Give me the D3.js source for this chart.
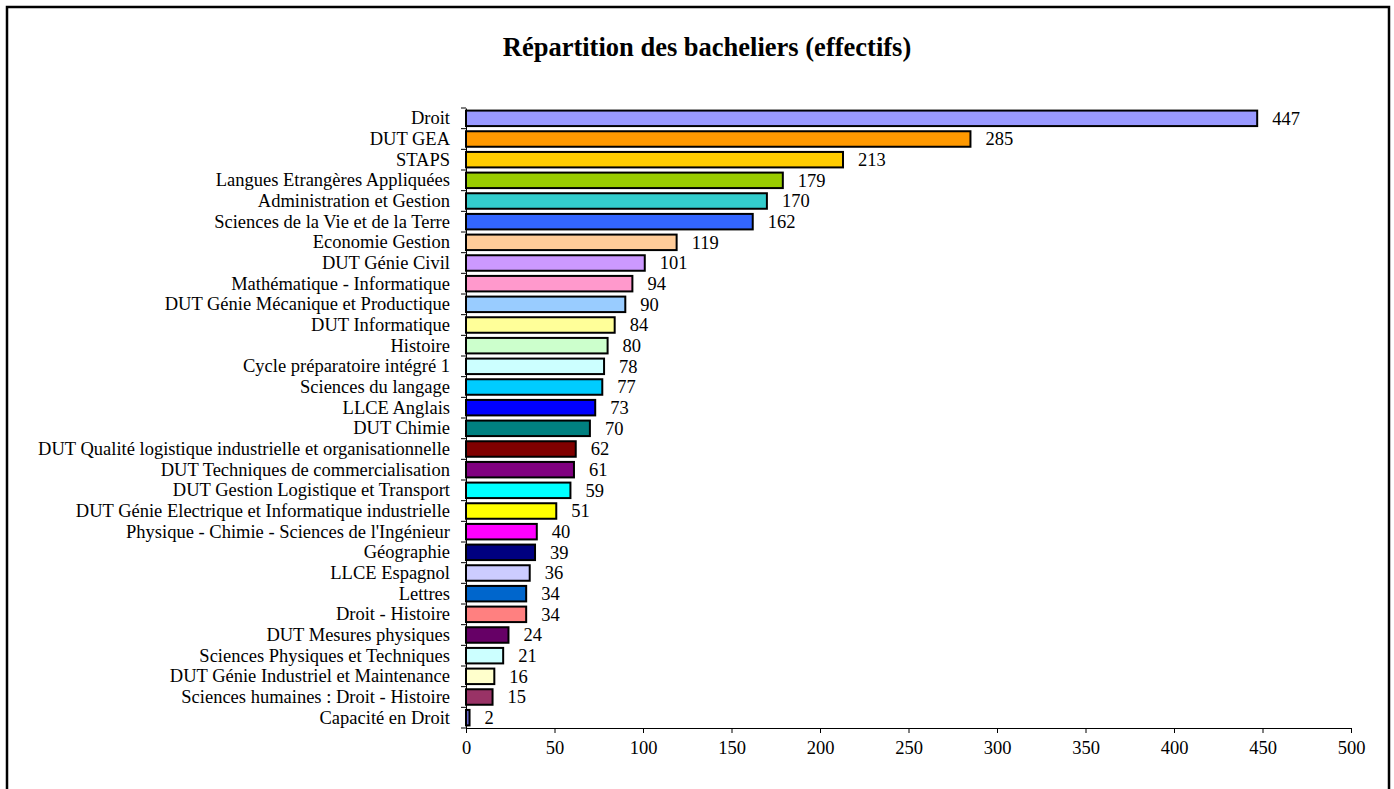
<!DOCTYPE html>
<html><head><meta charset="utf-8">
<script src="https://cdn.jsdelivr.net/npm/d3@7"></script>
<style>body{margin:0;background:#fff}svg{display:block}text{font-family:"Liberation Serif","Times New Roman",serif}</style>
</head><body>
<svg id="c" width="1394" height="789"></svg>
<script>
const categories = ["Droit","DUT GEA","STAPS","Langues Etrangères Appliquées","Administration et Gestion","Sciences de la Vie et de la Terre","Economie Gestion","DUT Génie Civil","Mathématique - Informatique","DUT Génie Mécanique et Productique","DUT Informatique","Histoire","Cycle préparatoire intégré 1","Sciences du langage","LLCE Anglais","DUT Chimie","DUT Qualité logistique industrielle et organisationnelle","DUT Techniques de commercialisation","DUT Gestion Logistique et Transport","DUT Génie Electrique et Informatique industrielle","Physique - Chimie - Sciences de l'Ingénieur","Géographie","LLCE Espagnol","Lettres","Droit - Histoire","DUT Mesures physiques","Sciences Physiques et Techniques","DUT Génie Industriel et Maintenance","Sciences humaines : Droit - Histoire","Capacité en Droit"];
const values = [447,285,213,179,170,162,119,101,94,90,84,80,78,77,73,70,62,61,59,51,40,39,36,34,34,24,21,16,15,2];
const colors = ["#9999FF","#FF9900","#FFCC00","#99CC00","#33CCCC","#3366FF","#FFCC99","#CC99FF","#FF99CC","#99CCFF","#FFFF99","#CCFFCC","#CCFFFF","#00CCFF","#0000FF","#008080","#800000","#800080","#00FFFF","#FFFF00","#FF00FF","#000080","#CCCCFF","#0066CC","#FF8080","#660066","#CCFFFF","#FFFFCC","#993366","#6666CC"];
const xTicks = [0,50,100,150,200,250,300,350,400,450,500];
const title = "Répartition des bacheliers (effectifs)";

const svg = d3.select("#c");
svg.append("rect").attr("x",7).attr("y",7).attr("width",1382).attr("height",790)
  .attr("fill","#fff").attr("stroke","#000").attr("stroke-width",2.5);
svg.append("text").attr("x",707).attr("y",56).attr("text-anchor","middle")
  .attr("font-size",26.5).attr("font-weight","bold").text(title);

const x = d3.scaleLinear().domain([0,500]).range([466,1351]);
const y = d3.scaleBand().domain(categories).range([108,728]).paddingInner(0.25).paddingOuter(0.125);

// bars
svg.append("g").selectAll("rect").data(categories).join("rect")
  .attr("x",x(0)).attr("y",d=>y(d)).attr("width",(d,i)=>x(values[i])-x(0)).attr("height",y.bandwidth())
  .attr("fill",(d,i)=>colors[i]).attr("stroke","#000").attr("stroke-width",2);

// value labels
svg.append("g").selectAll("text").data(categories).join("text")
  .attr("x",(d,i)=>x(values[i])+15).attr("y",d=>y(d)+y.bandwidth()/2).attr("dy","0.35em")
  .attr("font-size",18.5).text((d,i)=>values[i]);

// y axis
const yAxis = d3.axisLeft(y).tickSize(0).tickPadding(16);
const gy = svg.append("g").attr("transform",`translate(${x(0)},0)`).call(yAxis);
gy.select(".domain").attr("stroke","#000");
gy.selectAll("text").attr("font-size",18.5).attr("fill","#000").attr("font-family","Liberation Serif");
// boundary ticks
const step = y.step();
const bounds = d3.range(categories.length+1).map(i=>108+i*step);
svg.append("g").selectAll("line").data(bounds).join("line")
  .attr("x1",x(0)-5).attr("x2",x(0)).attr("y1",d=>d).attr("y2",d=>d).attr("stroke","#000");

// x axis
const xAxis = d3.axisBottom(x).tickValues(xTicks).tickSize(5).tickPadding(8);
const gx = svg.append("g").attr("transform","translate(0,728)").call(xAxis);
gx.selectAll("text").attr("font-size",18.5).attr("fill","#000").attr("font-family","Liberation Serif");
gx.selectAll("line").attr("stroke","#000");
gx.select(".domain").attr("stroke","#000");
</script>
</body></html>
